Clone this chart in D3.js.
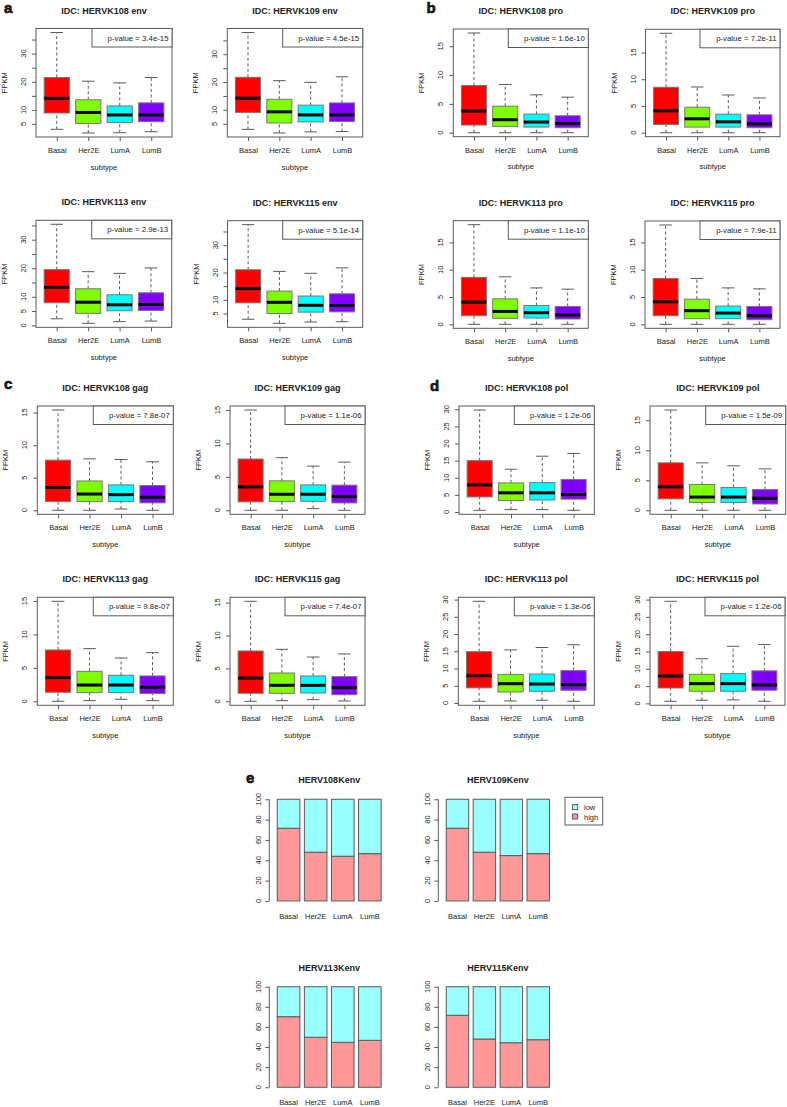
<!DOCTYPE html>
<html>
<head>
<meta charset="utf-8">
<script src="https://cdn.jsdelivr.net/npm/d3@7"></script>
<style>
  body { margin: 0; background: #fff; }
  svg { display: block; }
  text { font-family: "Liberation Sans", Arial, sans-serif; fill: #222; }
</style>
</head>
<body>
<div id="chart"></div>
<script>
// ---- data ----
const subtypes = ["Basal", "Her2E", "LumA", "LumB"];

// box stats per subtype: [lower whisker, Q1, median, Q3, upper whisker]
const env108 = [[3.1, 8.9, 14.1, 21.5, 37.5], [1.8, 5.2, 9.1, 13.6, 20.2], [1.9, 5.5, 8.2, 11.4, 19.6], [2.25, 5.8, 8.2, 12.5, 21.5]];
const env109 = [[3.0, 9.1, 14.2, 21.7, 37.8], [1.7, 5.3, 9.3, 13.8, 20.5], [2.1, 5.7, 8.2, 11.7, 19.9], [2.2, 5.8, 8.2, 12.5, 21.9]];
const env113 = [[2.3, 7.9, 13.3, 19.5, 35.4], [0.7, 4.2, 8.1, 12.8, 18.8], [1.3, 5.1, 7.2, 10.7, 18.2], [1.5, 5.2, 7.3, 11.4, 20.1]];
const env115 = [[2.9, 8.9, 14.1, 21.0, 37.5], [1.4, 5.0, 9.1, 13.2, 20.4], [1.9, 5.5, 8.0, 11.4, 19.7], [2.0, 5.6, 7.9, 12.2, 21.7]];
const pro108 = [[0, 1.33, 3.75, 8.2, 17.3], [0, 1.1, 2.25, 4.6, 8.36], [0, 0.98, 1.85, 3.23, 6.57], [0, 0.86, 1.61, 2.94, 6.17]];
const pro109 = [[0, 1.55, 4.09, 8.5, 18.6], [0, 1.05, 2.6, 4.77, 8.55], [0, 1.05, 2.04, 3.47, 7.06], [0, 0.93, 1.67, 3.35, 6.5]];
const pro113 = [[0, 1.58, 4.07, 8.6, 18.25], [0, 1.09, 2.36, 4.67, 8.7], [0, 1.16, 2.12, 3.45, 6.67], [0, 0.97, 1.7, 3.27, 6.44]];
const pro115 = [[0, 1.58, 4.13, 8.4, 18.2], [0, 1.03, 2.5, 4.6, 8.4], [0, 1.03, 2.06, 3.34, 6.67], [0, 0.85, 1.58, 3.27, 6.5]];
const gag108 = [[0, 1.34, 3.5, 7.7, 15.4], [0, 1.34, 2.5, 4.5, 7.9], [0.2, 1.34, 2.4, 3.9, 7.8], [0, 1.14, 2.0, 3.8, 7.45]];
const gag109 = [[0, 1.26, 3.5, 7.67, 15.0], [0, 1.3, 2.4, 4.4, 7.87], [0.25, 1.35, 2.4, 3.8, 6.6], [0, 1.1, 2.05, 3.76, 7.2]];
const gag113 = [[0, 1.35, 3.54, 7.67, 14.95], [0.1, 1.3, 2.43, 4.48, 7.87], [0.3, 1.3, 2.43, 3.89, 6.47], [0.1, 1.15, 2.1, 3.79, 7.27]];
const gag115 = [[0, 1.22, 3.54, 7.65, 15.2], [0.1, 1.22, 2.43, 4.3, 7.9], [0.25, 1.27, 2.43, 3.85, 6.73], [0.05, 1.0, 2.08, 3.75, 7.2]];
const pol108 = [[0.5, 4.4, 7.9, 15.0, 29.8], [0.7, 3.35, 5.6, 8.5, 12.5], [0.7, 3.5, 5.6, 8.6, 16.3], [0.5, 3.75, 5.1, 9.5, 17.1]];
const pol109 = [[0, 1.9, 3.9, 7.9, 16.7], [0, 1.3, 2.2, 4.3, 7.9], [0, 1.3, 2.2, 3.8, 7.4], [0, 1.05, 2.0, 3.45, 6.9]];
const pol113 = [[0.5, 4.4, 7.9, 14.9, 29.5], [0.6, 3.2, 5.6, 8.3, 15.4], [0.8, 3.4, 5.5, 8.4, 16.1], [0.5, 3.7, 5.3, 9.4, 16.9]];
const pol115 = [[0.6, 4.45, 7.9, 15.0, 29.5], [0.9, 3.5, 5.7, 8.4, 12.9], [1.0, 3.5, 5.7, 8.6, 16.5], [0.6, 3.8, 5.3, 9.4, 17.0]];

// y tick values and which of them carry a label
const envTicks = [5, 10, 15, 20, 25, 30, 35];
const envTicks0 = [0, 5, 10, 15, 20, 25, 30, 35];
const envLabels = [0, 5, 10, 20, 30];
const smallTicks = [0, 5, 10, 15];
const polTicks = [0, 5, 10, 15, 20, 25, 30];

// percent "high" per subtype (rest is "low")
const highEnv108 = [71.5, 47.9, 44.0, 46.5];
const highEnv109 = [71.5, 47.9, 44.6, 46.5];
const highEnv113 = [70.2, 49.7, 44.7, 46.7];
const highEnv115 = [71.6, 48.0, 44.3, 47.3];
const barTicks = [0, 20, 40, 60, 80, 100];

// ---- panels ----
const boxPanels = [
  { title: "IDC: HERVK108 env", p: "3.4e-15", stats: env108, ticks: envTicks, labels: envLabels },
  { title: "IDC: HERVK109 env", p: "4.5e-15", stats: env109, ticks: envTicks, labels: envLabels },
  { title: "IDC: HERVK108 pro", p: "1.6e-10", stats: pro108, ticks: smallTicks, labels: smallTicks },
  { title: "IDC: HERVK109 pro", p: "7.2e-11", stats: pro109, ticks: smallTicks, labels: smallTicks },
  { title: "IDC: HERVK113 env", p: "2.9e-13", stats: env113, ticks: envTicks0, labels: envLabels },
  { title: "IDC: HERVK115 env", p: "5.1e-14", stats: env115, ticks: envTicks, labels: envLabels },
  { title: "IDC: HERVK113 pro", p: "1.1e-10", stats: pro113, ticks: smallTicks, labels: smallTicks },
  { title: "IDC: HERVK115 pro", p: "7.9e-11", stats: pro115, ticks: smallTicks, labels: smallTicks },
  { title: "IDC: HERVK108 gag", p: "7.8e-07", stats: gag108, ticks: smallTicks, labels: smallTicks },
  { title: "IDC: HERVK109 gag", p: "1.1e-06", stats: gag109, ticks: smallTicks, labels: smallTicks },
  { title: "IDC: HERVK108 pol", p: "1.2e-06", stats: pol108, ticks: polTicks, labels: polTicks },
  { title: "IDC: HERVK109 pol", p: "1.5e-09", stats: pol109, ticks: smallTicks, labels: smallTicks },
  { title: "IDC: HERVK113 gag", p: "9.8e-07", stats: gag113, ticks: smallTicks, labels: smallTicks },
  { title: "IDC: HERVK115 gag", p: "7.4e-07", stats: gag115, ticks: smallTicks, labels: smallTicks },
  { title: "IDC: HERVK113 pol", p: "1.3e-06", stats: pol113, ticks: polTicks, labels: polTicks },
  { title: "IDC: HERVK115 pol", p: "1.2e-06", stats: pol115, ticks: polTicks, labels: polTicks }
];

// plot regions [left, top, width, height], same order as boxPanels
const boxLayout = [
  [36, 28.5, 136, 108.5], [227.3, 28.5, 135.4, 108.5], [453.3, 29, 135, 107.7], [645.5, 29.3, 134.5, 107.4],
  [36, 220.3, 135.7, 107], [227.5, 220.7, 135.2, 106.6], [453.3, 220.7, 135, 107.6], [645, 221, 135, 107.3],
  [37.3, 406, 136, 108.3], [230, 406, 135, 108.3], [459, 406, 135.3, 108.3], [650, 406, 135.7, 108.3],
  [37.3, 597.3, 136, 108], [230, 597.3, 135, 108], [458.3, 597.3, 136, 108], [650, 597.3, 135, 108]
];

const barPanels = [
  { title: "HERV108Kenv", high: highEnv108 },
  { title: "HERV109Kenv", high: highEnv109 },
  { title: "HERV113Kenv", high: highEnv113 },
  { title: "HERV115Kenv", high: highEnv115 }
];
const barLayout = [[269.3, 795.2, 116, 109.8], [438.3, 795.2, 115.3, 109.8], [269.3, 982.7, 116, 108.6], [438.3, 982.7, 115.3, 108.6]];

const panelLetters = [["a", 4, 12.5], ["b", 426.5, 12.5], ["c", 4, 388.5], ["d", 430, 390.5], ["e", 246, 783]];

const boxColors = ["#FF0000", "#80FF00", "#00FFFF", "#8000FF"];
const lineColor = "#5a5a5a";

// ---- drawing ----
const svg = d3.select("#chart").append("svg")
  .attr("width", 787)
  .attr("height", 1107);

svg.append("rect").attr("width", 787).attr("height", 1107).attr("fill", "#fff");

function drawBoxPanel(panel, box) {
  const [left, top, w, h] = box;
  const g = svg.append("g").attr("transform", `translate(${left},${top})`);

  const lo = d3.min(panel.stats, d => d[0]);
  const hi = d3.max(panel.stats, d => d[4]);
  const pad = (hi - lo) * 0.04;
  const y = d3.scaleLinear().domain([lo - pad, hi + pad]).range([h, 0]);
  const x = d3.scaleLinear().domain([0.34, 4.66]).range([0, w]);
  const bw = x(0.8) - x(0);

  // y axis
  const yAxis = g.append("g")
    .call(d3.axisLeft(y).tickValues(panel.ticks).tickSize(4).tickFormat(""));
  yAxis.select(".domain").remove();
  yAxis.selectAll("line").attr("stroke", lineColor);
  g.selectAll(".ylab")
    .data(panel.ticks.filter(t => panel.labels.includes(t)))
    .join("text")
    .attr("transform", d => `translate(-10,${y(d)}) rotate(-90)`)
    .attr("text-anchor", "middle")
    .style("font-size", "7.5px")
    .text(d => d);

  // x axis
  const xAxis = g.append("g")
    .attr("transform", `translate(0,${h})`)
    .call(d3.axisBottom(x).tickValues([1, 2, 3, 4]).tickSize(4).tickFormat(i => subtypes[i - 1]));
  xAxis.select(".domain").remove();
  xAxis.selectAll("line").attr("stroke", lineColor);
  xAxis.selectAll("text")
    .attr("y", 16).attr("dy", null)
    .attr("fill", "#222")
    .style("font-size", "7.5px")
    .style("font-family", "'Liberation Sans', Arial, sans-serif");

  // boxes
  const groups = g.selectAll(".bx")
    .data(panel.stats)
    .join("g");

  groups.append("line")
    .attr("x1", (d, i) => x(i + 1)).attr("x2", (d, i) => x(i + 1))
    .attr("y1", d => y(d[3])).attr("y2", d => y(d[4]))
    .attr("stroke", lineColor).attr("stroke-dasharray", "3,2.5");
  groups.append("line")
    .attr("x1", (d, i) => x(i + 1)).attr("x2", (d, i) => x(i + 1))
    .attr("y1", d => y(d[0])).attr("y2", d => y(d[1]))
    .attr("stroke", lineColor).attr("stroke-dasharray", "3,2.5");
  groups.append("line")
    .attr("x1", (d, i) => x(i + 1) - bw / 4).attr("x2", (d, i) => x(i + 1) + bw / 4)
    .attr("y1", d => y(d[4])).attr("y2", d => y(d[4]))
    .attr("stroke", lineColor);
  groups.append("line")
    .attr("x1", (d, i) => x(i + 1) - bw / 4).attr("x2", (d, i) => x(i + 1) + bw / 4)
    .attr("y1", d => y(d[0])).attr("y2", d => y(d[0]))
    .attr("stroke", lineColor);
  groups.append("rect")
    .attr("x", (d, i) => x(i + 1) - bw / 2)
    .attr("width", bw)
    .attr("y", d => y(d[3]))
    .attr("height", d => y(d[1]) - y(d[3]))
    .attr("fill", (d, i) => boxColors[i])
    .attr("stroke", "#777");
  groups.append("line")
    .attr("x1", (d, i) => x(i + 1) - bw / 2).attr("x2", (d, i) => x(i + 1) + bw / 2)
    .attr("y1", d => y(d[2])).attr("y2", d => y(d[2]))
    .attr("stroke", "#000").attr("stroke-width", 3);

  // frame
  g.append("rect")
    .attr("width", w).attr("height", h)
    .attr("fill", "none").attr("stroke", lineColor);

  // p-value legend
  g.append("rect")
    .attr("x", w - 80).attr("y", 0)
    .attr("width", 80).attr("height", 18.5)
    .attr("fill", "#fff").attr("stroke", lineColor);
  g.append("text")
    .attr("x", w - 3.5).attr("y", 12)
    .attr("text-anchor", "end")
    .style("font-size", "7.8px")
    .text(`p-value = ${panel.p}`);

  // labels
  g.append("text")
    .attr("x", w / 2).attr("y", -15)
    .attr("text-anchor", "middle")
    .style("font-size", "9px")
    .style("font-weight", "bold")
    .text(panel.title);
  g.append("text")
    .attr("x", w / 2).attr("y", h + 32.5)
    .attr("text-anchor", "middle")
    .style("font-size", "7.5px")
    .text("subtype");
  g.append("text")
    .attr("transform", `translate(-29,${h / 2}) rotate(-90)`)
    .attr("text-anchor", "middle")
    .style("font-size", "7.5px")
    .text("FPKM");
}

function drawBarPanel(panel, box) {
  const [left, top, w, h] = box;
  const g = svg.append("g").attr("transform", `translate(${left},${top})`);

  const y = d3.scaleLinear().domain([-4, 104]).range([h, 0]);
  const x = d3.scaleLinear().domain([-0.154, 4.984]).range([0, w]);

  // stacked bars: high at bottom, low on top
  const bars = g.selectAll(".bar")
    .data(panel.high)
    .join("g");
  bars.append("rect")
    .attr("x", (d, i) => x(0.2 + i * 1.2))
    .attr("width", x(1) - x(0))
    .attr("y", d => y(d))
    .attr("height", d => y(0) - y(d))
    .attr("fill", "#FF9999")
    .attr("stroke", lineColor);
  bars.append("rect")
    .attr("x", (d, i) => x(0.2 + i * 1.2))
    .attr("width", x(1) - x(0))
    .attr("y", y(100))
    .attr("height", d => y(d) - y(100))
    .attr("fill", "#99FFFF")
    .attr("stroke", lineColor);

  // y axis
  const yAxis = g.append("g")
    .call(d3.axisLeft(y).tickValues(barTicks).tickSize(4).tickFormat(""));
  yAxis.select(".domain").remove();
  yAxis.selectAll("line").attr("stroke", lineColor);
  g.append("line")
    .attr("x1", 0).attr("x2", 0)
    .attr("y1", y(0)).attr("y2", y(100))
    .attr("stroke", lineColor);
  g.selectAll(".ylab")
    .data(barTicks)
    .join("text")
    .attr("transform", d => `translate(-8,${y(d)}) rotate(-90)`)
    .attr("text-anchor", "middle")
    .style("font-size", "7.5px")
    .text(d => d);

  // names
  g.selectAll(".nm")
    .data(subtypes)
    .join("text")
    .attr("x", (d, i) => x(0.7 + i * 1.2))
    .attr("y", y(0) + 18)
    .attr("text-anchor", "middle")
    .style("font-size", "7.5px")
    .text(d => d);

  g.append("text")
    .attr("x", (x(0.2) + x(4.8)) / 2).attr("y", -12)
    .attr("text-anchor", "middle")
    .style("font-size", "9px")
    .style("font-weight", "bold")
    .text(panel.title);
}

boxPanels.forEach((p, i) => drawBoxPanel(p, boxLayout[i]));
barPanels.forEach((p, i) => drawBarPanel(p, barLayout[i]));

// legend for the stacked bars
const legend = svg.append("g").attr("transform", "translate(565,797.3)");
legend.append("rect")
  .attr("width", 37.7).attr("height", 27.7)
  .attr("fill", "#fff").attr("stroke", lineColor);
[["low", "#99FFFF"], ["high", "#FF9999"]].forEach(([name, col], i) => {
  legend.append("rect")
    .attr("x", 7.5).attr("y", 7.3 + i * 9.4)
    .attr("width", 5.2).attr("height", 5)
    .attr("fill", col).attr("stroke", lineColor);
  legend.append("text")
    .attr("x", 19).attr("y", 13 + i * 9.4)
    .style("font-size", "7.5px")
    .text(name);
});

// panel letters
svg.selectAll(".letter")
  .data(panelLetters)
  .join("text")
  .attr("x", d => d[1])
  .attr("y", d => d[2])
  .style("font-size", "15px")
  .style("font-weight", "bold")
  .attr("stroke", "#000")
  .attr("stroke-width", 0.6)
  .attr("fill", "#000")
  .text(d => d[0]);
</script>
</body>
</html>
